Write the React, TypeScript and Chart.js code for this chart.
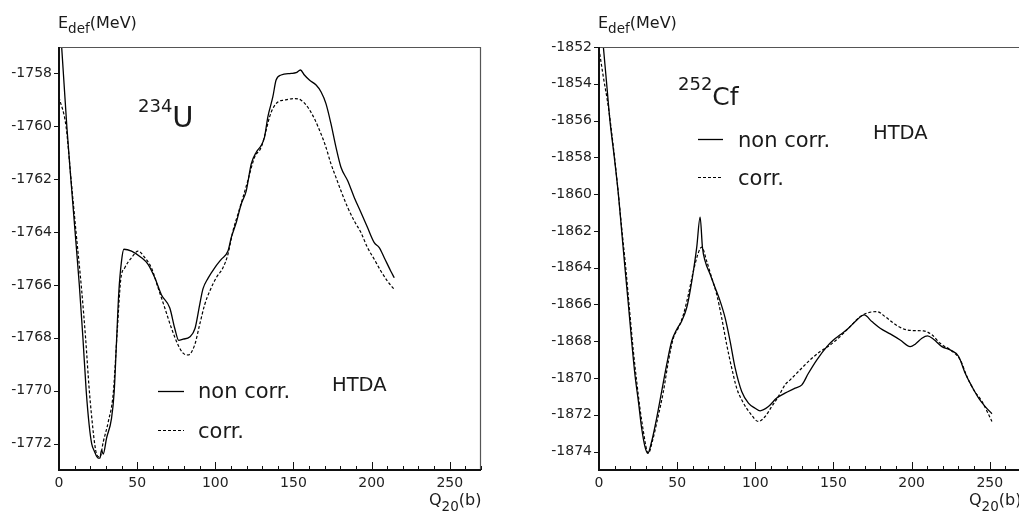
import React, { useEffect, useRef } from "react";
import { Chart, registerables } from "chart.js";

Chart.register(...registerables);

const FONT = '"DejaVu Sans", "Liberation Sans", sans-serif';
const INK = "#1a1a1a";

// ---- tick labels ----
const qTicks = [0, 50, 100, 150, 200, 250];
const uEnergyTicks = [-1772, -1770, -1768, -1766, -1764, -1762, -1760, -1758];
const cfEnergyTicks = [-1874, -1872, -1870, -1868, -1866, -1864, -1862, -1860, -1858, -1856, -1854, -1852];
const legendLabels = ["non corr.", "corr."];

// ---- 234U : [Q20 (b), E_def (MeV)] ----
const u234NonCorr: [number, number][] = [
  [0, -1755.2], [1.7, -1757.0], [5.0, -1760.0], [7.6, -1762.0], [10.3, -1764.0], [13.0, -1766.0],
  [15.3, -1768.0], [17.4, -1770.0], [19.3, -1771.3], [20.9, -1772.0], [22.7, -1772.3], [25.0, -1772.55],
  [26.2, -1772.55], [27.2, -1772.25], [28.3, -1772.4], [30.4, -1771.8], [33.6, -1771.05], [35.3, -1770.05],
  [36.8, -1768.15], [38.3, -1766.25], [40.0, -1765.1], [41.5, -1764.65], [46.4, -1764.72], [52.8, -1764.97],
  [57.0, -1765.22], [61.3, -1765.73], [65.5, -1766.37], [70.9, -1766.87], [74.0, -1767.63], [76.6, -1768.1],
  [79.4, -1768.05], [83.6, -1767.97], [87.0, -1767.65], [90.0, -1766.75], [92.1, -1766.15], [95.3, -1765.75],
  [99.6, -1765.35], [103.8, -1765.03], [108.1, -1764.72], [110.2, -1764.21], [113.4, -1763.64], [116.6, -1762.94],
  [119.8, -1762.44], [123.0, -1761.42], [126.2, -1760.98], [129.4, -1760.72], [131.5, -1760.41], [133.6, -1759.65],
  [136.8, -1758.89], [138.9, -1758.25], [142.1, -1758.06], [148.5, -1758.0], [151.7, -1757.97], [154.5, -1757.87],
  [157.0, -1758.06], [160.2, -1758.25], [164.5, -1758.44], [167.7, -1758.7], [170.8, -1759.14], [174.0, -1759.9],
  [177.2, -1760.79], [180.4, -1761.55], [184.7, -1762.06], [188.9, -1762.69], [193.2, -1763.26], [197.4, -1763.83],
  [201.7, -1764.4], [204.9, -1764.59], [208.1, -1764.97], [212.3, -1765.48], [214.5, -1765.73],
];

const u234Corr: [number, number][] = [
  [0, -1758.9], [4.5, -1760.0], [7.7, -1762.0], [10.9, -1764.0], [14.5, -1766.2], [17.0, -1768.0],
  [19.4, -1770.0], [21.9, -1771.56], [22.8, -1772.0], [24.0, -1772.39], [26.2, -1772.51], [28.3, -1771.94],
  [31.5, -1771.18], [34.7, -1770.1], [37.3, -1767.7], [39.5, -1765.8], [42.1, -1765.35], [46.4, -1764.97],
  [50.6, -1764.72], [54.9, -1764.97], [59.1, -1765.35], [63.4, -1766.11], [67.7, -1766.87], [71.9, -1767.63],
  [76.2, -1768.27], [79.4, -1768.58], [82.6, -1768.65], [86.8, -1768.27], [90.0, -1767.5], [93.2, -1766.75],
  [96.4, -1766.24], [100.6, -1765.73], [104.9, -1765.35], [108.1, -1764.84], [111.3, -1763.96], [114.5, -1763.32],
  [117.7, -1762.69], [120.8, -1762.06], [125.1, -1761.17], [129.4, -1760.79], [132.5, -1760.15], [134.7, -1759.65],
  [136.8, -1759.33], [140.0, -1759.08], [144.2, -1759.01], [150.6, -1758.95], [154.9, -1759.01], [159.1, -1759.27],
  [163.4, -1759.71], [167.6, -1760.28], [170.8, -1760.79], [174.0, -1761.42], [177.2, -1761.93], [180.4, -1762.44],
  [184.7, -1763.07], [188.9, -1763.58], [193.2, -1764.02], [197.4, -1764.59], [201.7, -1765.03], [206.0, -1765.48],
  [210.2, -1765.86], [214.5, -1766.17],
];

// ---- 252Cf : [Q20 (b), E_def (MeV)] ----
const cf252NonCorr: [number, number][] = [
  [0, -1849.3], [2.8, -1852.0], [4.9, -1854.0], [7.0, -1856.0], [9.8, -1858.0], [12.4, -1860.0],
  [14.5, -1862.0], [16.6, -1864.0], [18.8, -1866.0], [20.9, -1868.0], [23.0, -1869.82], [25.2, -1871.27],
  [27.3, -1872.73], [29.4, -1873.73], [31.2, -1874.09], [33.7, -1873.45], [36.9, -1872.18], [40.1, -1870.73],
  [43.3, -1869.27], [46.5, -1868.0], [49.7, -1867.36], [52.9, -1866.91], [56.1, -1866.18], [58.3, -1865.27],
  [60.4, -1864.18], [62.5, -1862.91], [64.7, -1861.25], [66.2, -1862.91], [67.9, -1863.64], [71.1, -1864.36],
  [74.3, -1865.09], [77.5, -1865.82], [80.7, -1866.73], [83.9, -1868.0], [87.1, -1869.45], [91.3, -1870.73],
  [95.6, -1871.36], [99.9, -1871.64], [103.1, -1871.78], [108.4, -1871.55], [113.7, -1871.09], [119.0, -1870.82],
  [125.5, -1870.55], [129.8, -1870.37], [134.0, -1869.74], [139.4, -1869.01], [145.8, -1868.29], [150.0, -1867.93],
  [154.3, -1867.65], [159.6, -1867.29], [165.0, -1866.84], [169.7, -1866.57], [174.6, -1866.93], [179.9, -1867.29],
  [186.3, -1867.6], [192.7, -1867.93], [199.1, -1868.29], [202.3, -1868.16], [206.6, -1867.84], [210.2, -1867.71],
  [214.0, -1867.89], [219.4, -1868.29], [224.7, -1868.47], [230.1, -1868.83], [234.3, -1869.74], [238.6, -1870.46],
  [242.9, -1871.09], [247.1, -1871.55], [251.4, -1871.94],
];

const cf252Corr: [number, number][] = [
  [0, -1852.1], [2.8, -1853.64], [6.0, -1855.27], [9.2, -1857.45], [12.0, -1859.64], [14.5, -1861.82],
  [17.1, -1864.0], [19.8, -1866.55], [22.0, -1868.55], [24.1, -1870.18], [26.2, -1871.64], [28.4, -1872.91],
  [30.5, -1873.91], [31.6, -1874.09], [34.1, -1873.45], [37.6, -1872.18], [41.2, -1870.73], [44.4, -1869.09],
  [47.6, -1867.82], [50.8, -1867.27], [54.0, -1866.55], [57.2, -1865.45], [60.4, -1864.18], [63.6, -1863.18],
  [65.7, -1862.88], [68.9, -1863.64], [72.1, -1864.55], [75.3, -1865.45], [78.5, -1866.73], [81.7, -1868.18],
  [84.9, -1869.45], [88.1, -1870.55], [92.4, -1871.36], [96.7, -1871.91], [102.0, -1872.36], [106.3, -1872.09],
  [110.5, -1871.55], [114.8, -1871.0], [119.1, -1870.36], [122.3, -1870.1], [128.7, -1869.55], [135.1, -1869.01],
  [141.5, -1868.56], [147.9, -1868.2], [154.3, -1867.74], [160.7, -1867.2], [167.1, -1866.66], [172.5, -1866.44],
  [177.8, -1866.39], [183.1, -1866.66], [188.5, -1867.02], [194.9, -1867.33], [201.3, -1867.42], [207.7, -1867.44],
  [213.0, -1867.65], [218.3, -1868.11], [224.7, -1868.47], [231.1, -1869.01], [235.4, -1869.92], [239.7, -1870.64],
  [245.0, -1871.27], [251.4, -1872.36],
];

type Run = { text: string; size: number; dy: number };

function drawRuns(ctx: CanvasRenderingContext2D, x: number, baseline: number, runs: Run[]) {
  let cx = x;
  for (const r of runs) {
    ctx.font = `${r.size}px ${FONT}`;
    ctx.fillText(r.text, cx, baseline + r.dy);
    cx += ctx.measureText(r.text).width;
  }
}

const decorPlugin = {
  id: "decor",
  afterDraw(chart: any, _args: any, opts: any) {
    const { ctx, chartArea: a } = chart;
    const xs = chart.scales.x;
    const ys = chart.scales.y;
    ctx.save();
    // frame: top and right (thin grey)
    ctx.strokeStyle = "#555";
    ctx.lineWidth = 1.2;
    ctx.beginPath();
    ctx.moveTo(a.left, a.top + 0.5);
    ctx.lineTo(a.right - 0.5, a.top + 0.5);
    ctx.lineTo(a.right - 0.5, a.bottom);
    ctx.stroke();
    // axes: left and bottom (dark)
    ctx.strokeStyle = "#111";
    ctx.lineWidth = 2;
    ctx.beginPath();
    ctx.moveTo(a.left, a.top);
    ctx.lineTo(a.left, a.bottom);
    ctx.lineTo(a.right, a.bottom);
    ctx.stroke();
    // x tick marks (inward), minor every 10, major every 50
    ctx.lineWidth = 1;
    ctx.beginPath();
    for (let v = 0; v <= xs.max; v += 10) {
      const px = Math.round(xs.getPixelForValue(v)) + 0.5;
      const len = v % 50 === 0 ? 8 : 4;
      ctx.moveTo(px, a.bottom);
      ctx.lineTo(px, a.bottom - len);
    }
    // y tick marks (outward)
    for (const t of ys.ticks) {
      const py = Math.round(ys.getPixelForValue(t.value)) + 0.5;
      ctx.moveTo(a.left - 5, py);
      ctx.lineTo(a.left, py);
    }
    ctx.stroke();

    // texts
    ctx.fillStyle = INK;
    ctx.textBaseline = "alphabetic";
    ctx.textAlign = "left";
    drawRuns(ctx, opts.yTitle.x, opts.yTitle.y, [
      { text: "E", size: 16, dy: 0 },
      { text: "def", size: 13.5, dy: 5 },
      { text: "(MeV)", size: 16, dy: 0 },
    ]);
    drawRuns(ctx, opts.xTitle.x, opts.xTitle.y, [
      { text: "Q", size: 16, dy: 0 },
      { text: "20", size: 13.5, dy: 5.5 },
      { text: "(b)", size: 16, dy: 0 },
    ]);
    const n = opts.nucleus;
    drawRuns(ctx, n.x, n.y, [
      { text: n.mass, size: 18, dy: -15.5 },
      { text: n.symbol, size: n.symbolSize, dy: 0 },
    ]);
    ctx.font = `${opts.htda.size}px ${FONT}`;
    ctx.fillText("HTDA", opts.htda.x, opts.htda.y);

    // legend
    const lg = opts.legend;
    ctx.strokeStyle = "#000";
    lg.rows.forEach((row: any, i: number) => {
      ctx.lineWidth = i === 0 ? 1.3 : 1.2;
      ctx.setLineDash(i === 0 ? [] : [3, 2]);
      ctx.beginPath();
      ctx.moveTo(lg.x1, row.line + 0.5);
      ctx.lineTo(lg.x2, row.line + 0.5);
      ctx.stroke();
      ctx.font = `${lg.size}px ${FONT}`;
      ctx.fillText(legendLabels[i], lg.tx, row.base);
    });
    ctx.setLineDash([]);
    ctx.restore();
  },
};

type PanelProps = {
  width: number;
  height: number;
  area: { left: number; top: number; right: number; bottom: number };
  xMax: number;
  yMin: number;
  yMax: number;
  yTicks: number[];
  nonCorr: [number, number][];
  corr: [number, number][];
  decor: any;
};

function Panel(p: PanelProps) {
  const ref = useRef<HTMLCanvasElement | null>(null);
  useEffect(() => {
    const canvas = ref.current;
    if (!canvas) return;
    const tickFont = { family: FONT, size: 14 };
    const chart = new Chart(canvas, {
      type: "line",
      data: {
        datasets: [
          {
            label: legendLabels[0],
            data: p.nonCorr.map(([q, e]) => ({ x: q, y: e })),
            borderColor: "#000",
            borderWidth: 1.3,
            pointRadius: 0,
            fill: false,
            cubicInterpolationMode: "monotone",
          },
          {
            label: legendLabels[1],
            data: p.corr.map(([q, e]) => ({ x: q, y: e })),
            borderColor: "#000",
            borderWidth: 1.2,
            borderDash: [3, 2],
            pointRadius: 0,
            fill: false,
            cubicInterpolationMode: "monotone",
          },
        ],
      },
      options: {
        animation: false,
        responsive: false,
        events: [],
        layout: {
          padding: { left: 0, top: p.area.top, right: p.width - p.area.right, bottom: 0 },
        },
        plugins: {
          legend: { display: false },
          tooltip: { enabled: false },
          decor: p.decor,
        } as any,
        scales: {
          x: {
            type: "linear",
            min: 0,
            max: p.xMax,
            afterBuildTicks: (s: any) => {
              s.ticks = qTicks.map((v) => ({ value: v }));
            },
            afterFit: (s: any) => {
              s.height = p.height - p.area.bottom;
            },
            grid: { display: false, drawTicks: false },
            border: { display: false },
            ticks: {
              font: tickFont,
              color: "#222",
              padding: 5,
              maxRotation: 0,
              autoSkip: false,
              callback: (v: any) => String(v),
            },
          },
          y: {
            type: "linear",
            min: p.yMin,
            max: p.yMax,
            afterBuildTicks: (s: any) => {
              s.ticks = p.yTicks.map((v) => ({ value: v }));
            },
            afterFit: (s: any) => {
              s.width = p.area.left;
            },
            grid: { display: false, drawTicks: false },
            border: { display: false },
            ticks: {
              font: tickFont,
              color: "#222",
              padding: 7,
              autoSkip: false,
              callback: (v: any) => String(v),
            },
          },
        },
      },
      plugins: [decorPlugin],
    } as any);
    return () => chart.destroy();
  }, []);
  return (
    <canvas
      ref={ref}
      width={p.width}
      height={p.height}
      style={{ width: p.width, height: p.height, display: "block" }}
    />
  );
}

export default function App() {
  const H = 513;
  return (
    <div
      style={{
        position: "absolute",
        left: 0,
        top: 0,
        width: 1019,
        height: H,
        overflow: "hidden",
        background: "#fff",
      }}
    >
      <div style={{ position: "absolute", left: 0, top: 0 }}>
        <Panel
          width={509}
          height={H}
          area={{ left: 59, top: 47, right: 481, bottom: 470 }}
          xMax={270}
          yMin={-1773}
          yMax={-1757}
          yTicks={uEnergyTicks}
          nonCorr={u234NonCorr}
          corr={u234Corr}
          decor={{
            yTitle: { x: 58, y: 28 },
            xTitle: { x: 429, y: 505 },
            nucleus: { x: 138, y: 127, mass: "234", symbol: "U", symbolSize: 29 },
            htda: { x: 332, y: 390.7, size: 19.5 },
            legend: {
              x1: 158,
              x2: 184,
              tx: 198,
              size: 21,
              rows: [
                { line: 391, base: 398 },
                { line: 430, base: 438 },
              ],
            },
          }}
        />
      </div>
      <div style={{ position: "absolute", left: 510, top: 0 }}>
        <Panel
          width={520}
          height={H}
          area={{ left: 89, top: 47, right: 511, bottom: 470 }}
          xMax={270}
          yMin={-1875}
          yMax={-1852}
          yTicks={cfEnergyTicks}
          nonCorr={cf252NonCorr}
          corr={cf252Corr}
          decor={{
            yTitle: { x: 88, y: 28 },
            xTitle: { x: 459, y: 505 },
            nucleus: { x: 168, y: 105, mass: "252", symbol: "Cf", symbolSize: 25 },
            htda: { x: 363, y: 139.3, size: 19.5 },
            legend: {
              x1: 188,
              x2: 213,
              tx: 228,
              size: 21,
              rows: [
                { line: 139, base: 146.7 },
                { line: 177, base: 185 },
              ],
            },
          }}
        />
      </div>
    </div>
  );
}
